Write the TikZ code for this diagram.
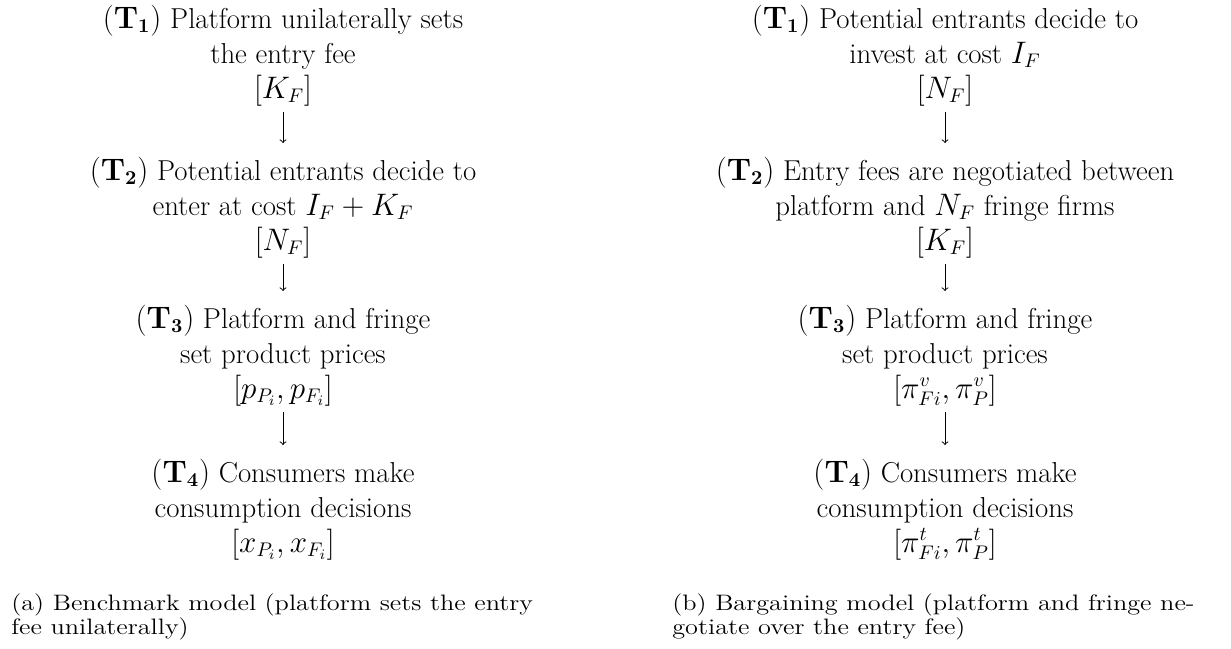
\documentclass[tikz,border=0pt]{standalone}
\usepackage{amsmath, amssymb}
\usepackage{tikz}

\begin{document}
\begin{tikzpicture}[x=0.5556pt, y=-0.5556pt,
    stage/.style={align=center, inner sep=0pt, anchor=base, font=\fontsize{16}{19.4}\selectfont},
    flow/.style={->, line width=0.5pt, shorten <=3.5pt, shorten >=7.5pt},
    subcap/.style={align=left, inner sep=0pt, anchor=base west, yscale=0.85, font=\fontsize{14.6}{15.6}\selectfont}]
  \useasboundingbox (0,0) rectangle (1231,648);
  % (a) benchmark model
  \node[stage] (bm1) at (283,98) {$(\mathbf{T_1})$ Platform unilaterally sets\\ the entry fee\\ $[K_F]$};
  \node[stage] (bm2) at (283,250) {$(\mathbf{T_2})$ Potential entrants decide to\\ enter at cost $I_F + K_F$\\ $[N_F]$};
  \node[stage] (bm3) at (283,398) {$(\mathbf{T_3})$ Platform and fringe\\ set product prices\\ $[p_{P_i}, p_{F_i}]$};
  \node[stage] (bm4) at (283,552) {$(\mathbf{T_4})$ Consumers make\\ consumption decisions\\ $[x_{P_i}, x_{F_i}]$};
  \draw[flow] (bm1.south) -- (bm2.north);
  \draw[flow] (bm2.south) -- (bm3.north);
  \draw[flow] (bm3.south) -- (bm4.north);
  \node[subcap] (capa) at (11,634) {(a) Benchmark model (platform sets the entry\\ fee unilaterally)};
  % (b) bargaining model
  \node[stage] (bg1) at (945,98) {$(\mathbf{T_1})$ Potential entrants decide to\\ invest at cost $I_F$\\ $[N_F]$};
  \node[stage] (bg2) at (945,250) {$(\mathbf{T_2})$ Entry fees are negotiated between\\ platform and $N_F$ fringe firms\\ $[K_F]$};
  \node[stage] (bg3) at (945,398) {$(\mathbf{T_3})$ Platform and fringe\\ set product prices\\ $[\pi^v_{Fi}, \pi^v_P]$};
  \node[stage] (bg4) at (945,552) {$(\mathbf{T_4})$ Consumers make\\ consumption decisions\\ $[\pi^t_{Fi}, \pi^t_P]$};
  \draw[flow] (bg1.south) -- (bg2.north);
  \draw[flow] (bg2.south) -- (bg3.north);
  \draw[flow] (bg3.south) -- (bg4.north);
  \node[subcap] (capb) at (672,634) {(b) Bargaining model (platform and fringe ne-\\ gotiate over the entry fee)};
\end{tikzpicture}
\end{document}
